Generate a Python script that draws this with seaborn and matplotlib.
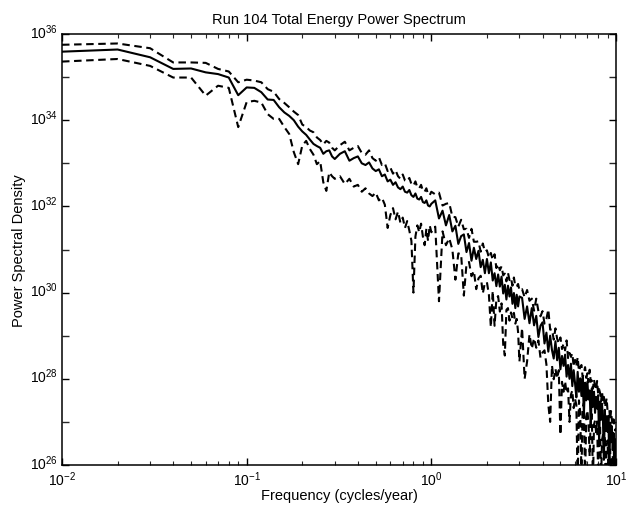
import numpy as np
import pandas as pd
import matplotlib
matplotlib.use("Agg")
import matplotlib.pyplot as plt
import matplotlib.transforms as mtransforms
import seaborn as sns
from matplotlib.ticker import FixedLocator, NullFormatter, FixedFormatter

# ---------------- data (frequencies in cycles/year, PSD as log10 exponents) ----------------
freq_low = [0.01, 0.02, 0.03, 0.04, 0.05, 0.06, 0.07, 0.08, 0.09, 0.10,
            0.11, 0.12, 0.13, 0.14, 0.15, 0.16, 0.17, 0.18, 0.19, 0.20,
            0.21, 0.22, 0.23, 0.24, 0.25, 0.26, 0.27, 0.28, 0.29, 0.30]
freq_mid = [0.32, 0.34, 0.36, 0.38, 0.40, 0.42, 0.44, 0.46, 0.48, 0.50,
            0.52, 0.54, 0.56, 0.58, 0.60, 0.62, 0.64, 0.66, 0.68, 0.70,
            0.72, 0.74, 0.76, 0.78, 0.80, 0.82, 0.84, 0.86, 0.88, 0.90,
            0.92, 0.94, 0.96, 0.98, 1.00]
freq_hi1 = [1.05, 1.10, 1.15, 1.20, 1.25, 1.30, 1.35, 1.40, 1.45, 1.50,
            1.55, 1.60, 1.65, 1.70, 1.75, 1.80, 1.85, 1.90, 1.95, 2.00,
            2.05, 2.10, 2.15, 2.20, 2.25, 2.30, 2.35, 2.40, 2.45, 2.50,
            2.55, 2.60, 2.65, 2.70, 2.75, 2.80, 2.85, 2.90, 2.95, 3.00]
freq_hi2 = [3.1, 3.2, 3.3, 3.4, 3.5, 3.6, 3.7, 3.8, 3.9, 4.0,
            4.1, 4.2, 4.3, 4.4, 4.5, 4.6, 4.7, 4.8, 4.9, 5.0,
            5.1, 5.2, 5.3, 5.4, 5.5, 5.6, 5.7, 5.8, 5.9, 6.0,
            6.1, 6.2, 6.3, 6.4, 6.5, 6.6, 6.7, 6.8, 6.9, 7.0,
            7.1, 7.2, 7.3, 7.4, 7.5, 7.6, 7.7, 7.8, 7.9, 8.0,
            8.1, 8.2, 8.3, 8.4, 8.5, 8.6, 8.7, 8.8, 8.9, 9.0,
            9.1, 9.2, 9.3, 9.4, 9.5, 9.6, 9.7, 9.8, 9.9, 10.0]
freq = freq_low + freq_mid + freq_hi1 + freq_hi2

estimate_exp = [
    35.59, 35.64, 35.46, 35.19, 35.20, 35.11, 35.07, 34.99, 34.58, 34.76,
    34.75, 34.65, 34.48, 34.47, 34.30, 34.18, 34.10, 34.00, 33.85, 33.74,
    33.66, 33.55, 33.45, 33.40, 33.36, 33.22, 33.28, 33.30, 33.16, 33.10,
    # mid
    33.22, 33.28, 33.06, 33.12, 33.16, 33.00, 32.96, 33.02, 32.88, 32.82,
    32.86, 32.70, 32.74, 32.58, 32.62, 32.50, 32.56, 32.44, 32.40, 32.46,
    32.34, 32.32, 32.38, 32.26, 32.22, 32.30, 32.18, 32.16, 32.22, 32.10,
    32.08, 32.14, 32.02, 32.00, 32.06,
    # hi1
    32.14, 31.72, 31.90, 31.56, 31.80, 31.42, 31.55, 31.13, 31.31, 31.35,
    30.94, 31.15, 30.74, 31.04, 30.78, 30.97, 30.59, 30.76, 30.45, 30.78,
    30.45, 30.70, 30.28, 30.45, 30.15, 30.42, 30.14, 30.37, 29.98, 30.18,
    29.84, 30.16, 29.91, 30.12, 29.74, 29.99, 29.64, 29.95, 29.68, 29.91,
    # hi2
    29.88, 29.39, 29.68, 29.29, 29.64, 29.24, 29.46, 28.97, 29.23, 29.31,
    28.82, 29.07, 28.63, 29.00, 28.67, 28.47, 28.87, 28.43, 28.72, 28.22,
    28.53, 28.30, 28.56, 28.05, 28.32, 28.00, 28.35, 27.83, 28.20, 27.90,
    27.57, 28.16, 27.70, 28.01, 27.60, 28.01, 27.18, 27.91, 27.50, 27.93,
    27.52, 27.73, 26.89, 27.78, 27.35, 27.70, 27.21, 27.58, 27.31, 27.62,
    26.54, 27.47, 27.05, 27.42, 27.02, 26.12, 27.28, 26.79, 27.13, 26.77,
    27.14, 25.75, 26.98, 26.53, 26.90, 26.35, 26.74, 25.65, 26.60, 26.05]

upper_exp = [
    35.75, 35.78, 35.67, 35.34, 35.34, 35.33, 35.19, 35.13, 34.88, 34.94,
    34.92, 34.88, 34.72, 34.66, 34.49, 34.40, 34.30, 34.20, 34.12, 33.90,
    33.84, 33.76, 33.72, 33.60, 33.54, 33.44, 33.52, 33.48, 33.36, 33.30,
    # mid
    33.42, 33.50, 33.30, 33.36, 33.40, 33.24, 33.20, 33.30, 33.12, 33.06,
    33.14, 32.96, 33.00, 32.82, 32.90, 32.76, 32.84, 32.70, 32.64, 32.74,
    32.60, 32.58, 32.66, 32.52, 32.48, 32.58, 32.44, 32.42, 32.50, 32.36,
    32.34, 32.42, 32.28, 32.26, 32.34,
    # hi1
    32.28, 32.32, 32.02, 32.06, 32.08, 31.76, 31.75, 31.53, 31.69, 31.47,
    31.48, 31.27, 31.48, 31.18, 31.18, 31.19, 30.95, 31.14, 30.95, 30.98,
    30.81, 30.92, 30.76, 30.89, 30.57, 30.66, 30.52, 30.61, 30.40, 30.44,
    30.26, 30.46, 30.29, 30.34, 30.16, 30.35, 30.14, 30.15, 30.20, 30.05,
    # hi2
    30.08, 29.89, 30.06, 29.81, 29.86, 29.58, 29.86, 29.57, 29.45, 29.57,
    29.28, 29.39, 29.61, 29.14, 29.15, 28.91, 29.17, 28.93, 28.82, 28.96,
    28.69, 28.82, 28.66, 28.89, 28.48, 28.60, 28.51, 28.59, 28.28, 28.44,
    28.29, 28.50, 28.18, 28.27, 28.32, 28.03, 28.14, 28.27, 28.02, 28.13,
    27.92, 28.21, 27.93, 27.96, 27.77, 27.98, 27.83, 27.74, 27.95, 27.66,
    27.76, 27.67, 27.47, 27.70, 27.48, 27.58, 27.34, 27.43, 27.55, 27.25,
    27.26, 27.29, 27.04, 27.25, 27.04, 26.93, 27.06, 26.93, 26.80, 26.85]

lower_exp = [
    35.36, 35.42, 35.26, 34.99, 34.99, 34.57, 34.80, 34.75, 33.84, 34.42,
    34.45, 34.41, 34.14, 34.03, 34.03, 33.84, 33.68, 33.26, 32.98, 33.41,
    33.52, 33.33, 33.20, 32.98, 33.05, 32.56, 32.36, 32.79, 32.70, 32.64,
    # mid
    32.70, 32.52, 32.64, 32.46, 32.50, 32.34, 32.42, 32.30, 32.24, 32.32,
    32.14, 32.20, 32.04, 31.50, 31.80, 31.96, 31.70, 31.88, 31.62, 31.74,
    31.50, 31.66, 31.44, 31.20, 30.00, 31.30, 31.56, 31.40, 31.60, 31.30,
    31.10, 31.48, 31.20, 31.56, 31.40,
    # hi1
    31.53, 29.80, 31.42, 31.10, 31.26, 31.00, 30.30, 30.91, 30.89, 29.93,
    30.66, 30.71, 30.38, 30.50, 30.08, 30.33, 30.39, 29.98, 30.23, 30.24,
    29.95, 29.20, 30.04, 29.23, 29.85, 29.92, 29.56, 29.75, 28.80, 28.54,
    29.60, 29.64, 29.35, 29.54, 29.40, 29.53, 29.28, 29.39, 29.08, 28.40,
    # hi2
    29.18, 28.00, 28.40, 29.03, 28.70, 28.94, 28.72, 28.89, 28.49, 28.61,
    28.66, 28.33, 27.40, 27.00, 28.31, 27.99, 28.23, 28.01, 28.20, 26.70,
    27.93, 27.70, 27.94, 27.67, 27.78, 27.00, 27.63, 27.73, 27.32, 27.54,
    27.39, 25.50, 27.50, 27.23, 25.80, 27.33, 27.44, 25.60, 27.12, 27.27,
    26.96, 26.20, 27.09, 27.18, 25.50, 26.94, 27.03, 26.76, 27.01, 25.80,
    26.82, 26.93, 25.60, 26.58, 26.70, 26.38, 26.68, 25.40, 26.45, 26.57,
    25.80, 26.19, 26.36, 25.50, 26.12, 26.23, 25.30, 25.85, 26.02, 25.50]

series_names = ["estimate", "upper", "lower"]
title_text = "Run 104 Total Energy Power Spectrum"
xlabel_text = "Frequency (cycles/year)"
ylabel_text = "Power Spectral Density"
ytick_exps = [26, 28, 30, 32, 34, 36]
xtick_exps = [-2, -1, 0, 1]

# ---------------- build table ----------------
df = pd.DataFrame({
    "freq": freq * 3,
    "psd": np.power(10.0, np.array(estimate_exp + upper_exp + lower_exp)),
    "series": [series_names[0]] * len(freq) + [series_names[1]] * len(freq)
              + [series_names[2]] * len(freq),
})

sns.set_theme(style="white")
plt.rcParams["font.family"] = ["Liberation Sans", "DejaVu Sans"]
plt.rcParams["mathtext.fontset"] = "custom"
plt.rcParams["mathtext.rm"] = "Liberation Sans"
plt.rcParams["mathtext.it"] = "Liberation Sans:italic"
plt.rcParams["mathtext.bf"] = "Liberation Sans:bold"

fig = plt.figure(figsize=(6.35, 5.06), dpi=100)
fig.patch.set_facecolor("white")
ax = fig.add_axes([62 / 635, 1 - 466 / 506, (616 - 62) / 635, (466 - 35) / 506])
ax.set_facecolor("white")

sns.lineplot(data=df, x="freq", y="psd", style="series",
             dashes={"estimate": "", "upper": (3.6, 2.2), "lower": (3.6, 2.2)},
             color="black", linewidth=1.5, estimator=None, sort=False,
             legend=False, ax=ax)

ax.set_xscale("log")
ax.set_yscale("log")
ax.set_xlim(10.0 ** xtick_exps[0], 10.0 ** xtick_exps[-1])
ax.set_ylim(10.0 ** ytick_exps[0], 10.0 ** ytick_exps[-1])

# x ticks
ax.xaxis.set_major_locator(FixedLocator([10.0 ** e for e in xtick_exps]))
ax.xaxis.set_major_formatter(FixedFormatter(
    [r"$\mathregular{10^{%d}}$" % e for e in xtick_exps]))
xminor = [m * 10.0 ** e for e in xtick_exps[:-1] for m in range(2, 10)]
ax.xaxis.set_minor_locator(FixedLocator(xminor))
ax.xaxis.set_minor_formatter(NullFormatter())

# y ticks
ax.yaxis.set_major_locator(FixedLocator([10.0 ** e for e in ytick_exps]))
ax.yaxis.set_major_formatter(FixedFormatter(
    [r"$\mathregular{10^{%d}}$" % e for e in ytick_exps]))
yminor = [10.0 ** (e + 1) for e in ytick_exps[:-1]]
ax.yaxis.set_minor_locator(FixedLocator(yminor))
ax.yaxis.set_minor_formatter(NullFormatter())

ax.tick_params(axis="both", which="major", direction="in", length=5, width=1,
               top=True, right=True, bottom=True, left=True,
               labelsize=10, colors="black")
ax.tick_params(axis="x", which="major", pad=3)
ax.tick_params(axis="y", which="major", pad=3)
ax.tick_params(axis="x", which="minor", direction="in", length=3, width=0.8,
               top=True, bottom=True)
ax.tick_params(axis="y", which="minor", direction="in", length=5, width=1,
               left=True, right=True)

# lift the y tick labels a little, as in the reference
lift = mtransforms.ScaledTranslation(0, 3 / 72, fig.dpi_scale_trans)
for lab in ax.get_yticklabels():
    lab.set_transform(lab.get_transform() + lift)

for sp in ax.spines.values():
    sp.set_visible(True)
    sp.set_color("black")
    sp.set_linewidth(1.1)

ax.set_title(title_text, fontsize=10.5, color="black", pad=8)
ax.set_xlabel(xlabel_text, fontsize=10.5, color="black", labelpad=0)
ax.set_ylabel(ylabel_text, fontsize=10.5, color="black", labelpad=3)
ax.grid(False)

fig.savefig("out.png", dpi=100, facecolor="white")
